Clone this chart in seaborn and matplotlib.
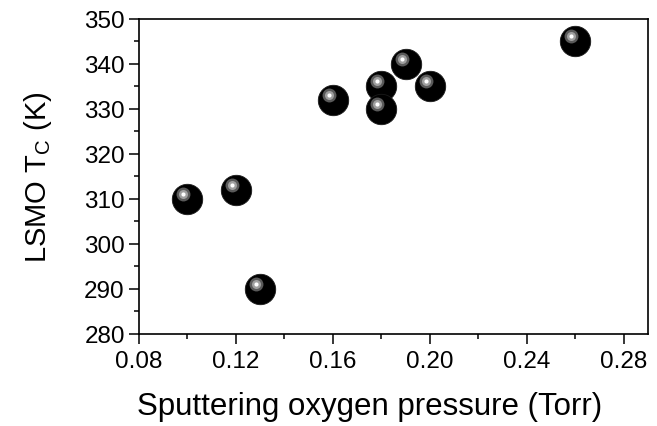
import matplotlib
matplotlib.use("Agg")
import matplotlib.pyplot as plt
import matplotlib.transforms as mtransforms
from matplotlib.ticker import MultipleLocator
import seaborn as sns
import pandas as pd

# Curie temperature of LSMO films vs. sputtering oxygen pressure
pressure = [0.10, 0.12, 0.13, 0.16, 0.18, 0.18, 0.19, 0.20, 0.26]
tc = [310, 312, 290, 332, 335, 330, 340, 335, 345]

df = pd.DataFrame({"pressure": pressure, "tc": tc})

sns.set_theme(style="ticks")
plt.rcParams["font.family"] = ["Liberation Sans", "DejaVu Sans"]

fig = plt.figure(figsize=(6.57, 4.27), dpi=100)
ax = fig.add_axes([0.2116, 0.2155, 0.7747, 0.7377])

# black spheres
sns.scatterplot(data=df, x="pressure", y="tc", ax=ax, s=480, color="black",
                edgecolor="#1a1a1a", linewidth=0.6, zorder=3, legend=False)

# specular highlight: concentric grey rings offset up-left
shift = mtransforms.ScaledTranslation(-4 / 100, 5 / 100, fig.dpi_scale_trans)
for size, col, z in [(100, "#5a5a5a", 4), (42, "#a0a0a0", 5), (9, "#ffffff", 6)]:
    sns.scatterplot(data=df, x="pressure", y="tc", ax=ax, s=size, color=col,
                    linewidth=0, zorder=z, legend=False,
                    transform=ax.transData + shift)

ax.set_xlim(0.08, 0.29)
ax.set_ylim(280, 350)
ax.xaxis.set_minor_locator(MultipleLocator(0.02))
ax.yaxis.set_major_locator(MultipleLocator(10))
ax.yaxis.set_minor_locator(MultipleLocator(5))
ax.set_xticks([0.08, 0.12, 0.16, 0.20, 0.24, 0.28])
ax.set_xticklabels(["0.08", "0.12", "0.16", "0.20", "0.24", "0.28"])

for sp in ax.spines.values():
    sp.set_visible(True)
    sp.set_linewidth(1.2)
    sp.set_color("black")

ax.tick_params(axis="both", which="major", direction="out", length=7.2, width=1.1,
               labelsize=17.5, color="black", labelcolor="black")
ax.tick_params(axis="y", which="major", pad=3)
ax.tick_params(axis="x", which="major", pad=4)
ax.tick_params(axis="both", which="minor", direction="out", length=3.6, width=1.1,
               color="black")
ax.tick_params(top=False, right=False, which="both")

ax.set_xlabel("Sputtering oxygen pressure (Torr)", fontsize=22.5, color="black", labelpad=8)
ax.xaxis.set_label_coords(0.454, -0.18)
ax.set_ylabel(r"LSMO T$_\mathregular{C}$ (K)", fontsize=21, color="black", labelpad=22)

fig.savefig("out.png", dpi=100)
